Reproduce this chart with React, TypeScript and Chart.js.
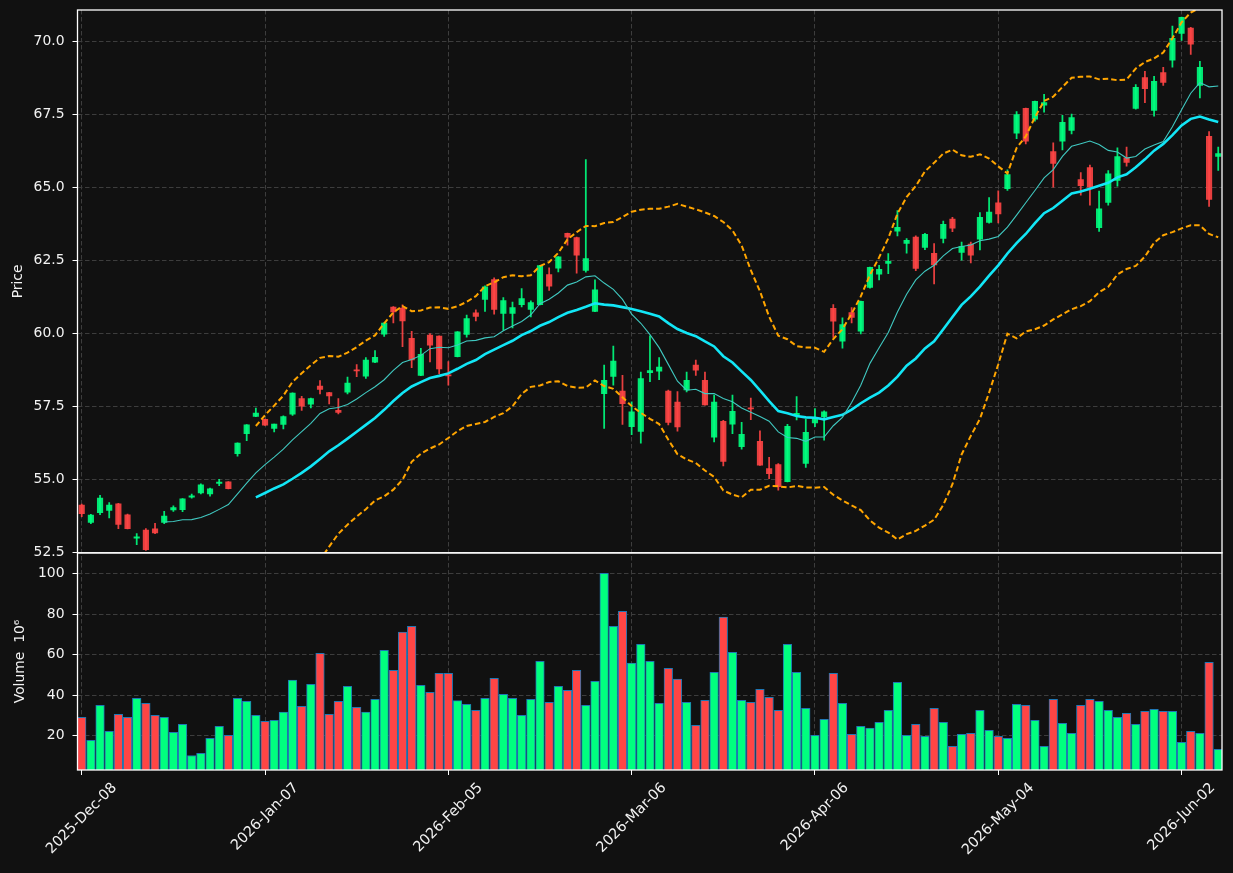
import React, { useEffect, useRef } from 'react';
import { Chart, registerables } from 'chart.js';

Chart.register(...registerables);

// ---- data ----
const tickIndex = [0, 20, 40, 60, 80, 100, 120];
const tickLabels = ['2025-Dec-08', '2026-Jan-07', '2026-Feb-05', '2026-Mar-06', '2026-Apr-06', '2026-May-04', '2026-Jun-02'];

const opens = [
  54.12, 53.52, 53.86, 53.93, 54.16, 53.78, 52.98, 53.26, 53.30, 53.52,
  53.95, 53.96, 54.39, 54.53, 54.50, 54.86, 54.91, 55.88, 56.56, 57.15,
  57.05, 56.74, 56.88, 57.23, 57.76, 57.57, 58.19, 57.97, 57.36, 57.98,
  58.75, 58.53, 59.01, 59.97, 60.90, 60.86, 59.83, 58.56, 59.94, 59.90,
  58.56, 59.20, 59.96, 60.70, 61.16, 61.84, 60.68, 60.68, 60.98, 60.82,
  60.98, 62.01, 62.23, 63.42, 63.28, 62.15, 60.75, 57.93, 58.52, 58.02,
  56.80, 56.64, 58.65, 58.70, 58.02, 57.64, 58.06, 58.91, 58.39, 56.44,
  56.98, 56.89, 56.12, 57.44, 56.30, 55.37, 55.50, 54.92, 57.19, 55.54,
  56.93, 57.14, 60.85, 59.73, 60.71, 60.07, 61.57, 62.02, 62.39, 63.50,
  63.08, 63.29, 62.94, 62.74, 63.25, 63.91, 62.77, 63.05, 63.22, 63.80,
  64.47, 64.95, 66.85, 67.70, 67.33, 67.81, 66.22, 66.58, 66.95, 65.26,
  65.67, 63.62, 64.48, 65.23, 66.01, 67.70, 68.76, 67.63, 68.93, 69.35,
  70.27, 70.45, 68.49, 66.74, 66.06,
];
const highs = [
  54.15, 53.80, 54.45, 54.20, 54.18, 53.81, 53.14, 53.31, 53.49, 53.90,
  54.09, 54.34, 54.49, 54.84, 54.70, 55.00, 54.92, 56.25, 56.87, 57.44,
  57.06, 56.89, 57.17, 57.96, 57.84, 57.78, 58.38, 57.98, 57.76, 58.50,
  58.93, 59.17, 59.41, 60.36, 60.91, 60.97, 60.07, 59.48, 59.99, 59.91,
  59.03, 60.06, 60.62, 60.80, 61.62, 61.90, 61.22, 61.07, 61.53, 61.11,
  62.33, 62.24, 62.63, 63.43, 63.29, 65.95, 61.83, 58.91, 59.56, 58.56,
  57.65, 58.67, 59.91, 59.17, 58.05, 58.00, 58.67, 59.08, 58.67, 57.88,
  57.02, 57.88, 56.95, 57.78, 56.66, 55.75, 55.54, 56.88, 57.83, 57.05,
  57.42, 57.34, 60.98, 60.53, 60.88, 61.10, 62.27, 62.33, 62.73, 64.20,
  63.24, 63.34, 63.42, 63.07, 63.84, 63.97, 63.12, 63.12, 64.13, 64.65,
  64.88, 65.60, 67.59, 67.71, 67.95, 68.18, 66.52, 67.46, 67.51, 65.50,
  65.76, 64.87, 65.57, 66.35, 66.38, 68.52, 68.97, 68.80, 69.11, 70.52,
  70.83, 70.48, 69.31, 66.91, 66.38,
];
const lows = [
  53.72, 53.48, 53.79, 53.68, 53.31, 53.30, 52.76, 52.56, 53.14, 53.48,
  53.90, 53.89, 54.35, 54.50, 54.42, 54.78, 54.67, 55.79, 56.32, 57.14,
  56.84, 56.62, 56.72, 57.19, 57.36, 57.44, 57.92, 57.58, 57.24, 57.92,
  58.51, 58.45, 58.99, 59.89, 60.35, 59.54, 58.82, 58.55, 59.02, 58.61,
  58.22, 59.19, 59.87, 60.42, 60.75, 60.65, 60.11, 60.18, 60.90, 60.56,
  60.97, 61.47, 62.10, 63.02, 62.06, 62.09, 60.74, 56.74, 58.22, 56.88,
  56.53, 56.24, 58.34, 58.41, 56.86, 56.65, 57.99, 58.56, 57.54, 56.28,
  55.46, 56.56, 56.03, 57.04, 55.47, 55.02, 54.63, 54.91, 57.03, 55.41,
  56.80, 56.34, 59.86, 59.49, 60.35, 59.98, 61.54, 61.83, 62.04, 63.33,
  62.74, 62.14, 62.86, 61.69, 63.09, 63.48, 62.50, 62.41, 62.85, 63.77,
  63.78, 64.89, 66.66, 66.48, 67.26, 67.57, 65.00, 66.28, 66.83, 64.73,
  64.39, 63.49, 64.39, 65.04, 65.72, 67.67, 67.90, 67.43, 68.49, 69.11,
  70.03, 69.55, 68.06, 64.34, 65.58,
];
const closes = [
  53.82, 53.77, 54.36, 54.12, 53.45, 53.31, 53.03, 52.59, 53.16, 53.74,
  54.03, 54.33, 54.43, 54.81, 54.67, 54.90, 54.68, 56.24, 56.86, 57.27,
  56.85, 56.89, 57.15, 57.95, 57.50, 57.76, 58.08, 57.85, 57.29, 58.29,
  58.71, 59.08, 59.18, 60.35, 60.73, 60.42, 59.09, 59.28, 59.59, 58.78,
  58.54, 60.05, 60.50, 60.58, 61.59, 60.82, 61.12, 60.88, 61.19, 61.05,
  62.32, 61.61, 62.62, 63.29, 62.67, 62.56, 61.49, 58.39, 59.05, 57.59,
  57.31, 58.45, 58.72, 58.84, 56.95, 56.79, 58.39, 58.74, 57.55, 57.64,
  55.61, 57.33, 56.54, 57.41, 55.48, 55.19, 54.75, 56.81, 57.26, 56.61,
  57.10, 57.31, 60.41, 60.30, 60.54, 61.09, 62.26, 62.19, 62.46, 63.63,
  63.18, 62.22, 63.39, 62.34, 63.73, 63.60, 62.98, 62.67, 63.97, 64.15,
  64.09, 65.43, 67.49, 66.58, 67.94, 67.90, 65.82, 67.22, 67.39, 65.05,
  65.00, 64.26, 65.46, 66.05, 65.85, 68.42, 68.38, 68.63, 68.59, 70.10,
  70.82, 69.90, 69.11, 64.58, 66.15,
];
const volumes = [
  29.1, 17.7, 35.0, 22.2, 30.6, 29.1, 38.5, 36.0, 30.1, 29.1,
  21.7, 25.6, 10.2, 11.3, 18.7, 24.6, 20.2, 38.5, 37.0, 30.1,
  27.1, 27.6, 31.6, 47.4, 34.5, 45.4, 60.7, 30.6, 37.0, 44.4,
  34.0, 31.6, 38.0, 62.2, 52.3, 71.1, 74.0, 44.9, 41.4, 50.8,
  50.8, 37.3, 35.5, 32.5, 38.5, 48.3, 40.4, 38.5, 30.1, 38.0,
  56.7, 36.5, 44.4, 42.4, 52.3, 35.0, 46.9, 100.2, 74.0, 81.4,
  55.8, 65.1, 56.7, 36.0, 53.3, 47.9, 36.5, 25.1, 37.5, 51.3,
  78.5, 61.2, 37.5, 36.5, 42.9, 39.0, 32.5, 65.1, 51.3, 33.5,
  20.2, 28.1, 50.8, 36.0, 20.7, 24.6, 23.7, 26.6, 32.5, 46.4,
  20.2, 25.6, 19.7, 33.5, 26.6, 14.8, 20.7, 21.2, 32.5, 22.7,
  19.7, 18.7, 35.5, 35.0, 27.6, 14.8, 38.0, 26.1, 21.2, 35.0,
  38.0, 37.0, 32.5, 29.1, 31.1, 25.6, 32.0, 33.0, 32.0, 32.0,
  16.7, 22.2, 21.2, 56.2, 13.3,
];
const priceTicks = [52.5, 55.0, 57.5, 60.0, 62.5, 65.0, 67.5, 70.0];
const volumeTicks = [20, 40, 60, 80, 100];

// ---- style ----
const BG = '#111111';
const TEXT = '#f2f2f2';
const GRID = '#3d3d3d';
const FONT = '"DejaVu Sans", sans-serif';
const FS = 13.9;
const XFS = 14.4;

function sma(arr: number[], n: number): (number | null)[] {
  return arr.map((_, i) => {
    if (i < n - 1) return null;
    let s = 0;
    for (let k = i - n + 1; k <= i; k++) s += arr[k];
    return s / n;
  });
}
function rollingStd(arr: number[], n: number): (number | null)[] {
  return arr.map((_, i) => {
    if (i < n - 1) return null;
    let s = 0;
    for (let k = i - n + 1; k <= i; k++) s += arr[k];
    const m = s / n;
    let v = 0;
    for (let k = i - n + 1; k <= i; k++) v += (arr[k] - m) * (arr[k] - m);
    return Math.sqrt(v / (n - 1));
  });
}

function fitY(s: any) {
  s.width = 77.5;
  s.paddingTop = 0;
  s.paddingBottom = 0;
  s.paddingLeft = 0;
  s.paddingRight = 0;
}

export default function App() {
  const ref = useRef<HTMLCanvasElement>(null);

  useEffect(() => {
    const idx = closes.map((_, i) => i);
    const up = idx.map((i) => closes[i] >= opens[i]);
    const candleCol = up.map((u) => (u ? 'rgba(0,255,127,0.9)' : 'rgba(255,69,69,0.9)'));
    const volCol = up.map((u) => (u ? '#00ff7f' : '#ff4545'));
    const ma10 = sma(closes, 10);
    const ma20 = sma(closes, 20);
    const sd20 = rollingStd(closes, 20);
    const bbU = idx.map((i) => (ma20[i] == null ? null : (ma20[i] as number) + 2 * (sd20[i] as number)));
    const bbL = idx.map((i) => (ma20[i] == null ? null : (ma20[i] as number) - 2 * (sd20[i] as number)));

    const lineDs = (label: string, vals: (number | null)[], color: string, width: number, dash: number[]) => ({
      type: 'line' as const,
      label,
      data: idx.map((i) => ({ x: i, y: vals[i] })),
      borderColor: color,
      borderWidth: width,
      borderDash: dash,
      pointRadius: 0,
      tension: 0,
      spanGaps: false,
      yAxisID: 'y',
      xAxisID: 'x',
      order: 0,
    });

    const clipPlugin = {
      id: 'priceClip',
      beforeDatasetDraw(chart: any, args: any) {
        const ds = chart.data.datasets[args.index];
        if (ds.yAxisID !== 'y') return;
        const { ctx, chartArea } = chart;
        const ys = chart.scales.y;
        ctx.save();
        ctx.beginPath();
        ctx.rect(chartArea.left, ys.top, chartArea.right - chartArea.left, ys.bottom - ys.top);
        ctx.clip();
      },
      afterDatasetDraw(chart: any, args: any) {
        const ds = chart.data.datasets[args.index];
        if (ds.yAxisID !== 'y') return;
        chart.ctx.restore();
      },
    };

    const framePlugin = {
      id: 'frame',
      beforeDraw(chart: any) {
        const { ctx, width, height } = chart;
        ctx.save();
        ctx.fillStyle = BG;
        ctx.fillRect(0, 0, width, height);
        ctx.restore();
      },
      afterDraw(chart: any) {
        const { ctx, chartArea } = chart;
        const ys = chart.scales.y;
        const yv = chart.scales.yv;
        const xs = chart.scales.x;
        ctx.save();
        ctx.strokeStyle = '#ffffff';
        ctx.lineWidth = 1.3;
        ctx.strokeRect(chartArea.left, ys.top, chartArea.right - chartArea.left, ys.bottom - ys.top);
        ctx.strokeRect(chartArea.left, yv.top, chartArea.right - chartArea.left, yv.bottom - yv.top);
        // x tick labels, rotated 45 deg, centred on the tick
        ctx.font = `${XFS}px ${FONT}`;
        ctx.fillStyle = TEXT;
        ctx.textAlign = 'center';
        ctx.textBaseline = 'middle';
        const h = XFS * 1.164;
        tickIndex.forEach((v, k) => {
          const label = tickLabels[k];
          const w = ctx.measureText(label).width;
          const bw = (w + h) * Math.SQRT1_2;
          const cx = xs.getPixelForValue(v);
          const cy = chartArea.bottom + 9.7 + bw / 2;
          ctx.save();
          ctx.translate(cx, cy);
          ctx.rotate(-Math.PI / 4);
          ctx.fillText(label, 0, 0);
          ctx.restore();
        });
        ctx.restore();
      },
    };

    const gridCommon = {
      color: GRID,
      lineWidth: 1,
      drawTicks: true,
      tickLength: 5,
      tickColor: '#ffffff',
      tickWidth: 1,
      tickBorderDash: [],
    };

    const chart = new Chart(ref.current as HTMLCanvasElement, {
      type: 'line',
      data: {
        datasets: [
          lineDs('BB upper', bbU, '#ffa500', 2, [5.5, 3]),
          lineDs('BB lower', bbL, '#ffa500', 2, [5.5, 3]),
          lineDs('MA10', ma10, '#40c8c0', 1.1, []),
          lineDs('MA20', ma20, '#12e6f6', 2.6, []),
          {
            type: 'bar',
            label: 'body',
            data: idx.map((i) => ({ x: i, y: [opens[i], closes[i]] })),
            backgroundColor: candleCol,
            borderWidth: 0,
            barThickness: 5.5,
            minBarLength: 1,
            grouped: false,
            yAxisID: 'y',
            xAxisID: 'x',
            order: 1,
          } as any,
          {
            type: 'bar',
            label: 'wick',
            data: idx.map((i) => ({ x: i, y: [lows[i], highs[i]] })),
            backgroundColor: candleCol,
            borderWidth: 0,
            barThickness: 1.1,
            grouped: false,
            yAxisID: 'y',
            xAxisID: 'x',
            order: 2,
          } as any,
          {
            type: 'bar',
            label: 'volume',
            data: idx.map((i) => ({ x: i, y: volumes[i] })),
            backgroundColor: volCol,
            borderColor: '#1f77b4',
            borderWidth: 1,
            barThickness: 8.6,
            grouped: false,
            yAxisID: 'yv',
            xAxisID: 'x',
            order: 3,
          } as any,
        ],
      },
      options: {
        animation: false,
        responsive: false,
        maintainAspectRatio: false,
        layout: { padding: { left: 0, right: 11, top: 10, bottom: 0 } },
        plugins: { legend: { display: false }, tooltip: { enabled: false } },
        scales: {
          x: {
            type: 'linear',
            position: 'bottom',
            min: -0.46,
            max: 124.41,
            offset: false,
            grid: { ...gridCommon, offset: false },
            border: { display: false, dash: [4.5, 2.5] },
            ticks: { autoSkip: false, maxRotation: 0, minRotation: 0, callback: () => '' },
            afterBuildTicks: (s: any) => {
              s.ticks = tickIndex.map((v) => ({ value: v }));
            },
            afterFit: (s: any) => {
              s.height = 103;
              s.paddingLeft = 0;
              s.paddingRight = 0;
              s.paddingTop = 0;
              s.paddingBottom = 0;
            },
          },
          yv: {
            type: 'linear',
            position: 'left',
            stack: 'panels',
            stackWeight: 2,
            min: 3.06,
            max: 110.27,
            beginAtZero: false,
            grid: gridCommon,
            border: { display: false, dash: [4.5, 2.5] },
            ticks: {
              color: TEXT,
              font: { family: FONT, size: FS },
              padding: 8,
              callback: (v: any) => String(v),
            },
            title: { display: true, text: 'Volume  10⁶', color: TEXT, font: { family: FONT, size: FS }, padding: { top: 12, bottom: 0 } },
            afterBuildTicks: (s: any) => {
              s.ticks = volumeTicks.map((v) => ({ value: v }));
            },
            afterFit: fitY,
          },
          y: {
            type: 'linear',
            position: 'left',
            stack: 'panels',
            stackWeight: 5,
            min: 52.48,
            max: 71.07,
            beginAtZero: false,
            grid: gridCommon,
            border: { display: false, dash: [4.5, 2.5] },
            ticks: {
              color: TEXT,
              font: { family: FONT, size: FS },
              padding: 8,
              callback: (v: any) => Number(v).toFixed(1),
            },
            title: { display: true, text: 'Price', color: TEXT, font: { family: FONT, size: FS }, padding: { top: 10, bottom: 0 } },
            afterBuildTicks: (s: any) => {
              s.ticks = priceTicks.map((v) => ({ value: v }));
            },
            afterFit: fitY,
          },
        },
      } as any,
      plugins: [clipPlugin, framePlugin],
    });
    return () => chart.destroy();
  }, []);

  return (
    <div style={{ position: 'fixed', left: 0, top: 0, width: 1233, height: 873, background: BG }}>
      <canvas ref={ref} width={1233} height={873} style={{ display: 'block', width: 1233, height: 873 }} />
    </div>
  );
}
